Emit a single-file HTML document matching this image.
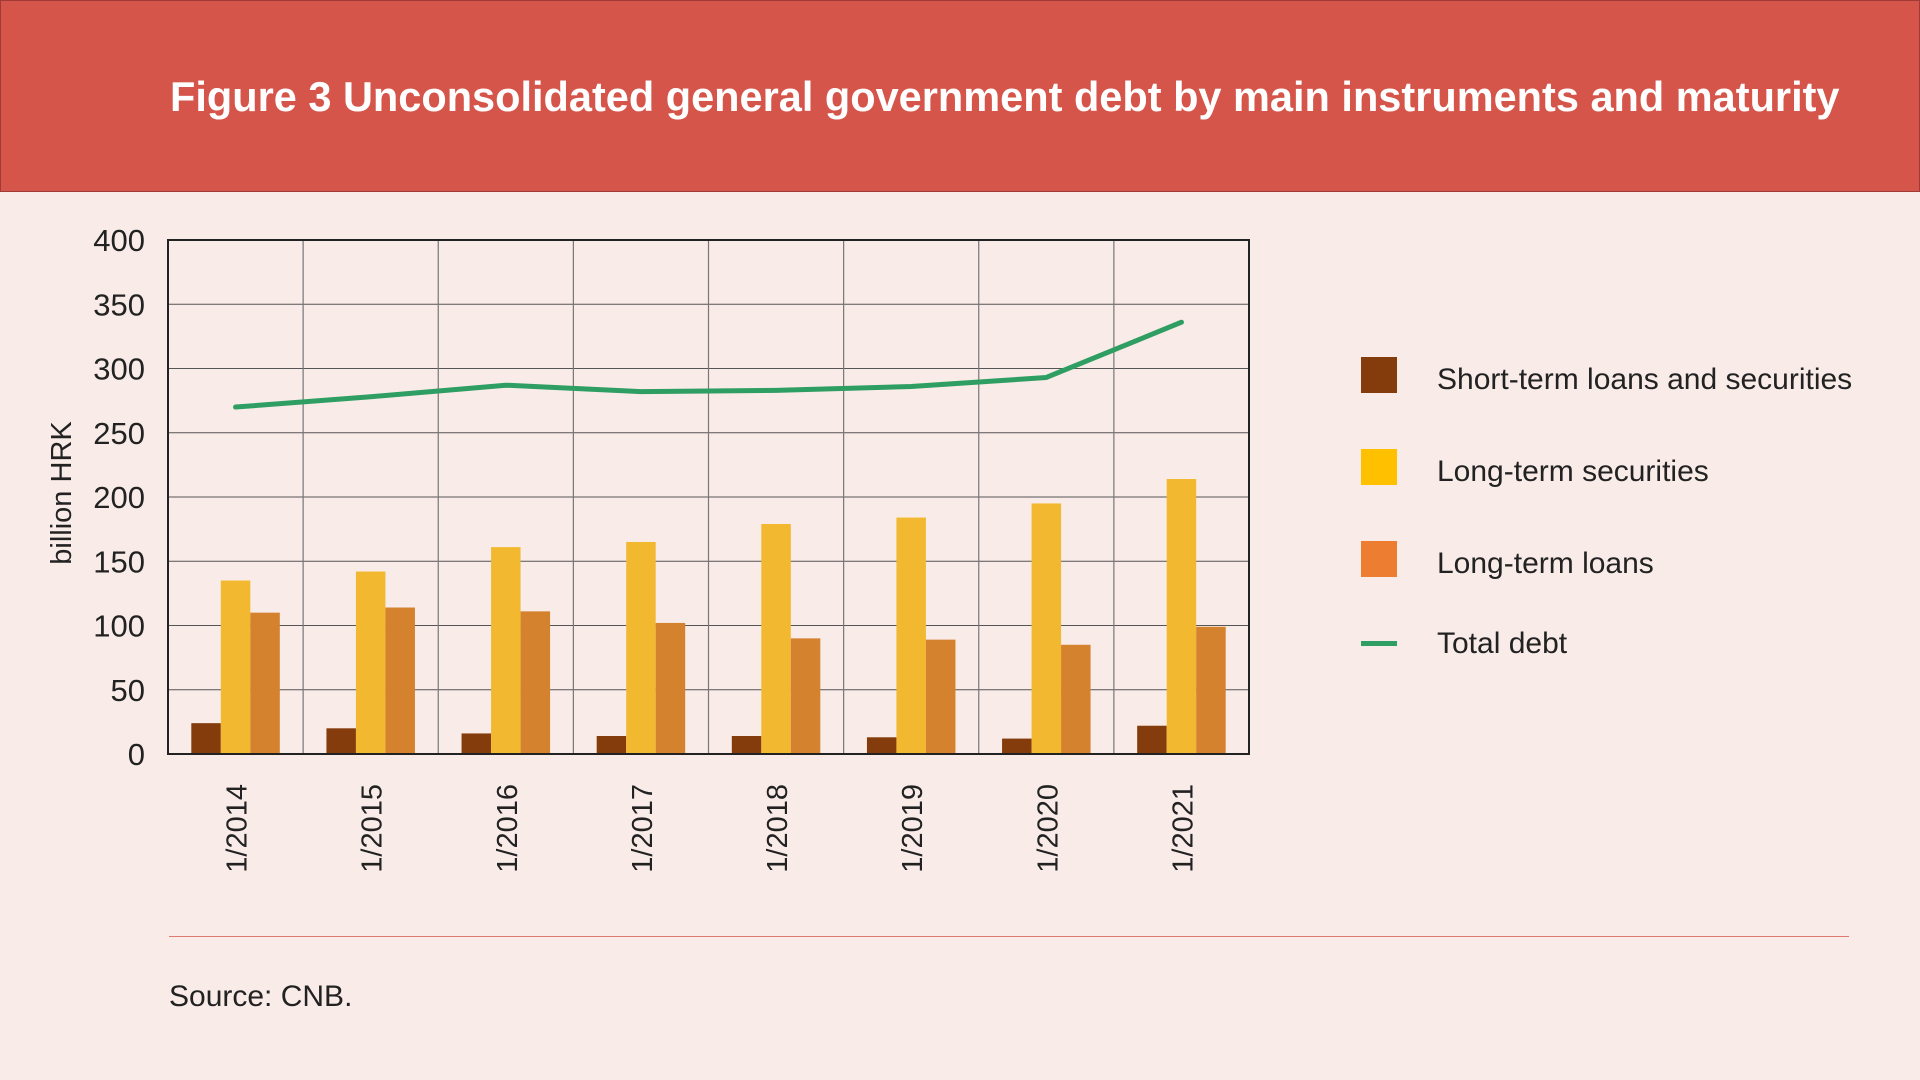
<!DOCTYPE html>
<html><head><meta charset="utf-8"><style>
body{margin:0;width:1920px;height:1080px;background:#f9ebe8;overflow:hidden;font-family:"Liberation Sans Narrow","Liberation Sans",sans-serif;}
#hdr{position:absolute;left:0;top:0;width:1918px;height:190px;background:#d6554a;border:1px solid #a03a35;}
#title{position:absolute;left:169px;top:72px;color:#fff;font:bold 41.5px "Liberation Sans",sans-serif;white-space:nowrap;}
.leg{position:absolute;font-size:30px;color:#222;}
.sw{position:absolute;width:36px;height:36px;}
#rule{position:absolute;left:169px;top:936px;width:1680px;height:1px;background:#e07a70;}
#src{position:absolute;left:169px;top:980px;font:30px "Liberation Sans",sans-serif;color:#222;}
</style></head><body>
<div id="hdr"><div id="title">Figure 3 Unconsolidated general government debt by main instruments and maturity</div></div>
<svg id="chart" width="1920" height="1080" style="position:absolute;left:0;top:0"></svg>
<div class="sw" style="left:1361px;top:357px;background:#843c0c"></div>
<div class="leg" style="left:1437px;top:363px">Short-term loans and securities</div>
<div class="sw" style="left:1361px;top:449px;background:#ffc000"></div>
<div class="leg" style="left:1437px;top:455px">Long-term securities</div>
<div class="sw" style="left:1361px;top:541px;background:#ed7d31"></div>
<div class="leg" style="left:1437px;top:547px">Long-term loans</div>
<div class="sw" style="left:1361px;top:641px;height:5px;background:#2e9e62"></div>
<div class="leg" style="left:1437px;top:627px">Total debt</div>
<div id="rule"></div>
<div id="src">Source: CNB.</div>
<script>
const categories=["1/2014","1/2015","1/2016","1/2017","1/2018","1/2019","1/2020","1/2021"];
const shortTerm=[24,20,16,14,14,13,12,22];
const longSec=[135,142,161,165,179,184,195,214];
const longLoans=[110,114,111,102,90,89,85,99];
const totalDebt=[270,278,287,282,283,286,293,336];
const yTicks=[0,50,100,150,200,250,300,350,400];
const L=168,R=1249,T=240,B=754,yMax=400;
const svg=document.getElementById('chart');const NS="http://www.w3.org/2000/svg";
const cw=(R-L)/categories.length;
const x=i=>L+cw*(i+0.5);
const y=v=>B-(B-T)*v/yMax;
function mk(t,a,p){const e=document.createElementNS(NS,t);for(const k in a)e.setAttribute(k,a[k]);(p||svg).appendChild(e);return e;}
yTicks.forEach(v=>{
 const g=mk('line',{x1:L,x2:R,y1:y(v),y2:y(v),stroke:'#555','stroke-width':1});
 
 
 const t=mk('text',{x:145,y:y(v)+11,'text-anchor':'end','font-size':31,fill:'#222','font-family':'"Liberation Sans Narrow","Liberation Sans",sans-serif'});
 t.textContent=v;
 
 
});
categories.forEach((c,i)=>{
 if(i>0){const g=mk('line',{x1:L+cw*i,x2:L+cw*i,y1:T,y2:B,stroke:'#777','stroke-width':1.2});
 
 }
 const t=mk('text',{x:0,y:0,transform:`translate(${x(i)+11},${784}) rotate(-90)`,'text-anchor':'end','font-size':29,fill:'#222','font-family':'"Liberation Sans Narrow","Liberation Sans",sans-serif'});
 t.textContent=c;
 
 
});
const bw=29.5;
const series=[[shortTerm,'#843c0c','bar-short-term'],[longSec,'#f2b930','bar-long-term-securities'],[longLoans,'#d5822f','bar-long-term-loans']];
series.forEach((s,j)=>{s[0].forEach((v,i)=>{
 const r=mk('rect',{x:x(i)-1.5*bw+j*bw,y:y(v),width:bw,height:B-y(v),fill:s[1]});
 
 
});});
const pl=mk('polyline',{points:totalDebt.map((v,i)=>x(i)+','+y(v)).join(' '),fill:'none',stroke:'#2e9e62','stroke-width':5,'stroke-linecap':'round','stroke-linejoin':'round'});


const fr=mk('rect',{x:L,y:T,width:R-L,height:B-T,fill:'none',stroke:'#222','stroke-width':2});


const yl=mk('text',{transform:`translate(71,493) rotate(-90)`,'text-anchor':'middle','font-size':29,fill:'#222','font-family':'"Liberation Sans Narrow","Liberation Sans",sans-serif'});
yl.textContent='billion HRK';


</script>
</body></html>
